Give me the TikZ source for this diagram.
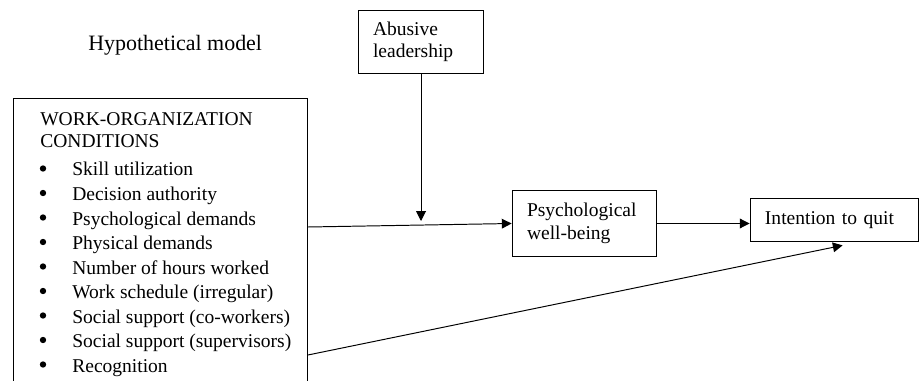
\documentclass[tikz,border=0pt]{standalone}
\usepackage{fontspec}
\setmainfont{Liberation Serif}
\usetikzlibrary{arrows.meta}

\begin{document}
\begin{tikzpicture}[x=0.615pt,y=-0.615pt,
    font=\fontsize{12}{13.8}\selectfont,
    box/.style={draw,line width=0.6pt,align=left,inner xsep=9.2pt,inner ysep=0pt},
    txt/.style={inner sep=0pt},
    dotmark/.style={circle,fill,inner sep=0pt,minimum size=3.9pt},
    arr/.style={line width=0.6pt,-{Triangle[length=6pt,width=6pt]}}]
  \useasboundingbox (0,0) rectangle (920,381);
  \clip (0,0) rectangle (920,381);
  \node[txt,anchor=west,font=\fontsize{13.5}{16}\selectfont] (title) at (88,45) {Hypothetical model};
  % boxes
  \node[box,anchor=north west,minimum width=180.8pt,minimum height=200pt] (wo) at (13,98) {};
  \node[box,text width=59pt,minimum height=38.7pt] (ab) at (421,42) {Abusive\\leadership};
  \node[box,text width=70.7pt,minimum height=40pt] (psych) at (584.5,223.5) {Psychological\\well-being};
  \node[box,text width=85.5pt,minimum height=27pt] (intent) at (834.5,220) {Intention to quit};
  % list in the left box
  \node[txt,anchor=base west] (head1) at (40,126) {WORK-ORGANIZATION};
  \node[txt,anchor=base west] (head2) at (40,148) {CONDITIONS};
  \foreach \txt [count=\i from 0] in {Skill utilization,Decision authority,
      Psychological demands,Physical demands,Number of hours worked,
      {Work schedule (irregular)},{Social support (co-workers)},
      {Social support (supervisors)},Recognition}{
    \node[dotmark] (dot\i) at (43,{168.5+24.5*\i}) {};
    \node[txt,anchor=base west] (item\i) at (72,{176+24.5*\i}) {\txt};
  }
  % arrows
  \draw[arr] (wo.east |- 0,227) -- (psych.west);
  \draw[arr] (ab.south) -- (ab.south |- 0,221);
  \draw[arr] (psych.east) -- (psych.east -| intent.west);
  \draw[arr] (wo.east |- 0,355) -- ([xshift=5pt,yshift=-1.8pt]intent.south);
\end{tikzpicture}
\end{document}
